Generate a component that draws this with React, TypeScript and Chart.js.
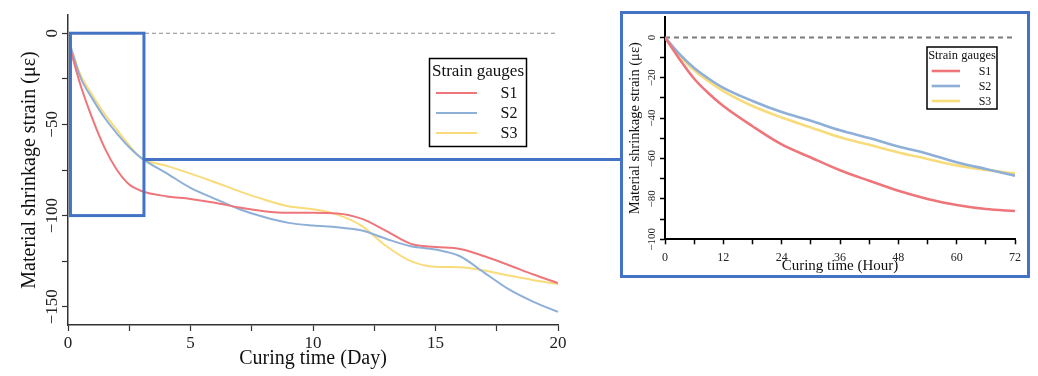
import React, { useEffect, useRef } from 'react';
import { Chart, registerables } from 'chart.js';

Chart.register(...registerables);

const FONT = "'Liberation Serif', 'Times New Roman', serif";

// ---------- data ----------
const seriesNames = ['S1', 'S2', 'S3'];
const seriesColors = ['#ee767b', '#8eafd7', '#f8dc7c'];
const legendTitle = 'Strain gauges';

// main chart (days)
const mainDays = [0.1, 0.5, 1, 1.5, 2, 2.5, 3, 4, 5, 6, 7, 8, 9, 10, 11, 12, 13, 14, 15, 16, 17, 18, 19, 20];
const s1Main = [-9, -28, -47, -63, -75, -83, -86.5, -89.4, -90.9, -93, -95.6, -97.6, -98.5, -98.5, -98.8, -101.8, -108.5, -115.5, -117.2, -118.3, -122.3, -127.2, -132.3, -137];
const s2Main = [-7, -24, -36, -46.5, -55, -62.5, -68.5, -76.6, -84.8, -90.8, -96.5, -100.8, -104, -105.5, -106.4, -108.2, -112.8, -116.8, -118.6, -122.3, -131.4, -140.5, -147.3, -152.8];
const s3Main = [-7, -22.5, -34, -44.5, -53, -61.5, -68.5, -72.6, -77, -81.7, -86.7, -91.2, -94.9, -96.5, -99.5, -105.8, -116.8, -125, -128.1, -128.3, -130.1, -132.9, -135.4, -137.5];
const mainXTicks = [0, 2.5, 5, 7.5, 10, 12.5, 15, 17.5, 20];
const mainXLabels = [0, 5, 10, 15, 20];
const mainYTicks = [0, -25, -50, -75, -100, -125, -150];
const mainYLabels = [0, -50, -100, -150];

// inset chart (hours)
const insetHours = [0, 3, 6, 9, 12, 18, 24, 30, 36, 42, 48, 54, 60, 66, 72];
const s1Inset = [0, -10.8, -20.5, -27.8, -34, -44, -53, -59.5, -65.8, -71, -76, -80, -83, -85, -86];
const s2Inset = [0, -8.3, -15.2, -20.5, -25, -31.5, -37, -41.3, -46, -49.8, -54, -57.6, -61.8, -65.2, -68.5];
const s3Inset = [0, -9, -16.3, -21.8, -26.6, -34, -39.7, -44.6, -49.5, -53.2, -57, -60.2, -63.4, -65.6, -67.3];
const insetXTicks = [0, 6, 12, 18, 24, 30, 36, 42, 48, 54, 60, 66, 72];
const insetXLabels = [0, 12, 24, 36, 48, 60, 72];
const insetYTicks = [0, -10, -20, -30, -40, -50, -60, -70, -80, -90, -100];
const insetYLabels = [0, -20, -40, -60, -80, -100];

// zoom window marked on the main chart (data units)
const zoomWindow = { x0: 0.1, x1: 3.1, y0: 0, y1: -100, linkY: -69.3 };

// ---------- layout constants ----------
const W = 1038;
const H = 376;
const INSET_LEFT = 620;
const INSET_TOP = 11;
const INSET_W = 410;
const INSET_H = 267;
const INSET_BORDER = 3;
const ZOOM_BLUE = '#4472c4';

const fmt = (v: number) => (v < 0 ? '\u2212' + Math.abs(v) : String(v));

const boxLegendPlugin = {
  id: 'boxLegend',
  afterDraw(chart: any, _args: any, o: any) {
    const ctx = chart.ctx as CanvasRenderingContext2D;
    const series = chart.data.datasets.filter((d: any) => seriesNames.includes(d.label));
    ctx.save();
    ctx.fillStyle = '#ffffff';
    ctx.fillRect(o.x, o.y, o.w, o.h);
    ctx.strokeStyle = '#000000';
    ctx.lineWidth = o.borderWidth;
    ctx.strokeRect(o.x, o.y, o.w, o.h);
    ctx.fillStyle = '#111111';
    ctx.textAlign = 'center';
    ctx.textBaseline = 'middle';
    ctx.font = `${o.titleSize}px ${FONT}`;
    ctx.fillText(legendTitle, o.x + o.w / 2, o.titleY);
    series.forEach((ds: any, i: number) => {
      const y = o.rowY + i * o.rowStep;
      ctx.strokeStyle = ds.borderColor;
      ctx.lineWidth = o.lineWidth;
      ctx.beginPath();
      ctx.moveTo(o.lineX0, y);
      ctx.lineTo(o.lineX1, y);
      ctx.stroke();
      ctx.font = `${o.labelSize}px ${FONT}`;
      ctx.fillStyle = '#111111';
      ctx.fillText(ds.label, o.labelX, y + 1);
    });
    ctx.restore();
  },
};

const zoomBoxPlugin = {
  id: 'zoomBox',
  afterDatasetsDraw(chart: any, _args: any, o: any) {
    if (!o || !o.enabled) return;
    const ctx = chart.ctx as CanvasRenderingContext2D;
    const xs = chart.scales.x;
    const ys = chart.scales.y;
    const x0 = xs.getPixelForValue(zoomWindow.x0);
    const x1 = xs.getPixelForValue(zoomWindow.x1);
    const y0 = ys.getPixelForValue(zoomWindow.y0);
    const y1 = ys.getPixelForValue(zoomWindow.y1);
    const ly = ys.getPixelForValue(zoomWindow.linkY);
    ctx.save();
    ctx.strokeStyle = ZOOM_BLUE;
    ctx.lineWidth = 3;
    ctx.strokeRect(x0, y0, x1 - x0, y1 - y0);
    ctx.beginPath();
    ctx.moveTo(x1, ly);
    ctx.lineTo(INSET_LEFT + 1, ly);
    ctx.stroke();
    ctx.restore();
  },
};

function lineDatasets(xs: number[], ys: number[][], width: number, xMax: number, zeroDash: number[], zeroColor: string, zeroWidth: number) {
  const series = seriesNames.map((name, i) => ({
    label: name,
    data: xs.map((x, j) => ({ x, y: ys[i][j] })),
    borderColor: seriesColors[i],
    backgroundColor: seriesColors[i],
    borderWidth: width,
    pointRadius: 0,
    cubicInterpolationMode: 'monotone',
    fill: false,
    order: i,
  }));
  return [
    ...series,
    {
      label: 'zero',
      data: [{ x: 0, y: 0 }, { x: xMax, y: 0 }],
      borderColor: zeroColor,
      borderWidth: zeroWidth,
      borderDash: zeroDash,
      pointRadius: 0,
      fill: false,
      order: 10,
    },
  ];
}

function mainConfig(): any {
  return {
    type: 'line',
    data: {
      datasets: lineDatasets(mainDays, [s1Main, s2Main, s3Main], 2, 20, [4, 3], '#8c8c8c', 1.2),
    },
    options: {
      responsive: false,
      animation: false,
      events: [],
      layout: { padding: { left: 0, top: 15, right: W - 558, bottom: 0 } },
      plugins: {
        legend: { display: false },
        tooltip: { enabled: false },
        zoomBox: { enabled: true },
        boxLegend: {
          x: 429.5, y: 58.5, w: 97, h: 88, borderWidth: 1.5,
          titleSize: 17, titleY: 72, labelSize: 16,
          rowY: 93, rowStep: 20, lineX0: 436, lineX1: 477, labelX: 509, lineWidth: 1.8,
        },
      },
      scales: {
        x: {
          type: 'linear',
          min: 0,
          max: 20,
          afterFit: (s: any) => { s.height = 51; },
          afterBuildTicks: (s: any) => { s.ticks = mainXTicks.map((v) => ({ value: v })); },
          ticks: {
            autoSkip: false, maxRotation: 0, minRotation: 0, padding: 2, color: '#222',
            font: { family: FONT, size: 17 },
            callback: (v: number) => (mainXLabels.includes(v) ? fmt(v) : ''),
          },
          grid: { drawOnChartArea: false, drawTicks: true, tickLength: 6, tickColor: '#333', tickWidth: 1.2 },
          border: { display: true, color: '#333', width: 1.5 },
          title: { display: true, text: 'Curing time (Day)', color: '#111', font: { family: FONT, size: 20 }, padding: { top: 0, bottom: 5 } },
        },
        y: {
          type: 'linear',
          min: -160,
          max: 10,
          afterFit: (s: any) => { s.width = 68; },
          afterBuildTicks: (s: any) => { s.ticks = mainYTicks.map((v) => ({ value: v })); },
          ticks: {
            autoSkip: false, minRotation: 90, maxRotation: 90, crossAlign: 'center', padding: -8.5, color: '#222',
            font: { family: FONT, size: 17 },
            callback: (v: number) => (mainYLabels.includes(v) ? fmt(v) : ''),
          },
          grid: { drawOnChartArea: false, drawTicks: true, tickLength: 6, tickColor: '#333', tickWidth: 1.2 },
          border: { display: true, color: '#333', width: 1.5 },
          title: { display: true, text: 'Material shrinkage strain (\u03bc\u03b5)', color: '#111', font: { family: FONT, size: 20 }, padding: { top: 18, bottom: 0 } },
        },
      },
    },
    plugins: [zoomBoxPlugin, boxLegendPlugin],
  };
}

function insetConfig(): any {
  const cw = INSET_W - 2 * INSET_BORDER;
  return {
    type: 'line',
    data: {
      datasets: lineDatasets(insetHours, [s1Inset, s2Inset, s3Inset], 2.6, 72, [5, 4], '#7a7a7a', 2),
    },
    options: {
      responsive: false,
      animation: false,
      events: [],
      layout: { padding: { left: 0, top: 1, right: cw - 396.3, bottom: 0 } },
      plugins: {
        legend: { display: false },
        tooltip: { enabled: false },
        zoomBox: { enabled: false },
        boxLegend: {
          x: 304, y: 33, w: 70, h: 62, borderWidth: 1.5,
          titleSize: 12.5, titleY: 42, labelSize: 12,
          rowY: 57, rowStep: 15, lineX0: 308.7, lineX1: 337, labelX: 362, lineWidth: 2.6,
        },
      },
      scales: {
        x: {
          type: 'linear',
          min: 0,
          max: 72,
          afterFit: (s: any) => { s.height = 35.7; },
          afterBuildTicks: (s: any) => { s.ticks = insetXTicks.map((v) => ({ value: v })); },
          ticks: {
            autoSkip: false, maxRotation: 0, minRotation: 0, padding: 6, color: '#222',
            font: { family: FONT, size: 12 },
            callback: (v: number) => (insetXLabels.includes(v) ? fmt(v) : ''),
          },
          grid: { drawOnChartArea: false, drawTicks: true, tickLength: 5, tickColor: '#000', tickWidth: 1.5 },
          border: { display: true, color: '#000', width: 2 },
          title: { display: true, text: 'Curing time (Hour)', color: '#111', font: { family: FONT, size: 15 }, padding: { top: 0, bottom: 0 } },
        },
        y: {
          type: 'linear',
          min: -100,
          max: 10,
          afterFit: (s: any) => { s.width = 42; },
          afterBuildTicks: (s: any) => { s.ticks = insetYTicks.map((v) => ({ value: v })); },
          ticks: {
            autoSkip: false, minRotation: 90, maxRotation: 90, crossAlign: 'center', padding: -3.4, color: '#222',
            font: { family: FONT, size: 11 },
            callback: (v: number) => (insetYLabels.includes(v) ? fmt(v) : ''),
          },
          grid: { drawOnChartArea: false, drawTicks: true, tickLength: 5, tickColor: '#000', tickWidth: 1.5 },
          border: { display: true, color: '#000', width: 2 },
          title: { display: true, text: 'Material shrinkage strain (\u03bc\u03b5)', color: '#111', font: { family: FONT, size: 14.5 }, padding: { top: 3.3, bottom: 0 } },
        },
      },
    },
    plugins: [boxLegendPlugin],
  };
}

export default function App() {
  const mainRef = useRef<HTMLCanvasElement>(null);
  const insetRef = useRef<HTMLCanvasElement>(null);

  useEffect(() => {
    const main = new Chart(mainRef.current as HTMLCanvasElement, mainConfig());
    const inset = new Chart(insetRef.current as HTMLCanvasElement, insetConfig());
    return () => {
      main.destroy();
      inset.destroy();
    };
  }, []);

  const innerW = INSET_W - 2 * INSET_BORDER;
  const innerH = INSET_H - 2 * INSET_BORDER;

  return (
    <div style={{ position: 'absolute', left: 0, top: 0, width: W, height: H, background: '#fff', overflow: 'hidden' }}>
      <canvas ref={mainRef} width={W} height={H} style={{ position: 'absolute', left: 0, top: 0, width: W, height: H }} />
      <div
        style={{
          position: 'absolute', left: INSET_LEFT, top: INSET_TOP, width: INSET_W, height: INSET_H,
          border: `${INSET_BORDER}px solid ${ZOOM_BLUE}`, boxSizing: 'border-box', background: '#fff',
        }}
      >
        <canvas ref={insetRef} width={innerW} height={innerH} style={{ display: 'block', width: innerW, height: innerH }} />
      </div>
    </div>
  );
}
